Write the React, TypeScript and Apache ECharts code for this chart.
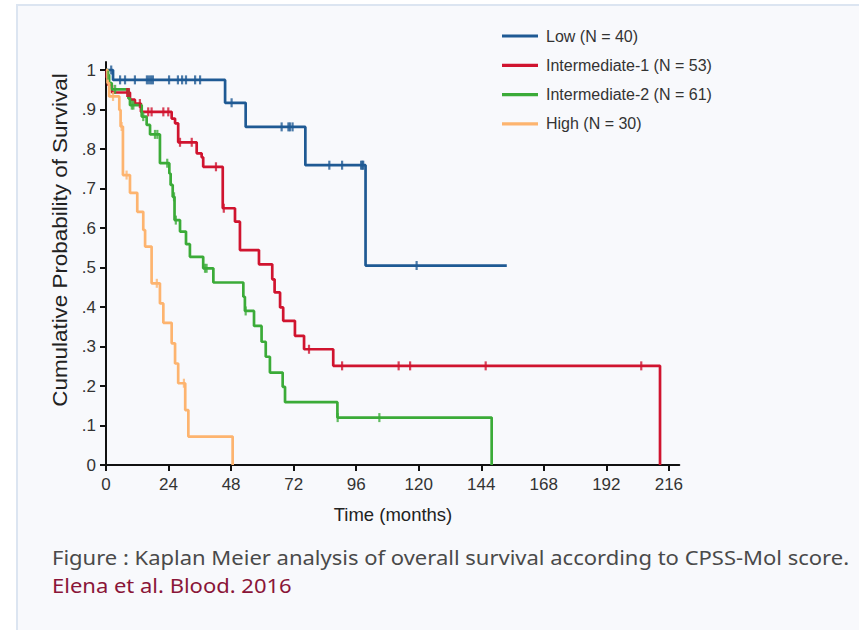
import React, { useEffect, useRef } from 'react';
import * as echarts from 'echarts';

const seriesNames = ['Low (N = 40)', 'Intermediate-1 (N = 53)', 'Intermediate-2 (N = 61)', 'High (N = 30)'];
const seriesColors = ['#1f5a94', '#d0142f', '#3bab38', '#fdb46f'];

// Kaplan-Meier steps: [time (months), survival after the event]
const lowSteps = [[0, 1], [2.7, 0.975], [45.7, 0.917], [53.6, 0.856], [76.5, 0.759], [99.6, 0.505], [153.8, 0.505]];
const lowCensored = [2.0, 5.4, 7.3, 11.1, 15.7, 16.5, 17.3, 18.0, 24.2, 27.6, 29.2, 30.7, 34.2, 36.1, 48.2, 67.4, 70.0, 70.6, 71.6, 85.7, 90.6, 97.9, 98.4, 98.7, 119.2];

const int1Steps = [[0, 1], [0.3, 0.981], [0.8, 0.962], [2.3, 0.943], [9.2, 0.925], [11.1, 0.915], [13.4, 0.894], [25.2, 0.877], [26.5, 0.865], [27.7, 0.817], [34.8, 0.789], [36.7, 0.779], [37.3, 0.755], [44.8, 0.65], [49.5, 0.616], [51.4, 0.544], [58.7, 0.508], [63.8, 0.47], [64.7, 0.437], [66.8, 0.399], [68, 0.365], [72.5, 0.327], [76, 0.293], [87.2, 0.251], [212.6, 0]];
const int1Censored = [8.1, 8.8, 13.0, 16.2, 17.5, 22.0, 23.9, 28.4, 32.9, 42.2, 45.2, 77.9, 90.6, 112.3, 116.7, 145.7, 205.4];

const int2Steps = [[0, 1], [0.65, 0.987], [1.2, 0.967], [2.2, 0.951], [8.6, 0.928], [9.2, 0.911], [13.7, 0.882], [15.6, 0.861], [16.9, 0.837], [20.7, 0.764], [24.3, 0.738], [24.8, 0.709], [25.6, 0.679], [26.3, 0.62], [28.4, 0.591], [30.7, 0.559], [32.2, 0.527], [37.3, 0.498], [41.2, 0.462], [52.7, 0.426], [53.3, 0.39], [56.8, 0.352], [59.7, 0.312], [61.3, 0.274], [62.9, 0.234], [67.8, 0.198], [68.7, 0.159], [88.8, 0.12], [148, 0]];
const int2Censored = [0.9, 3.5, 9.9, 10.5, 14.3, 18.8, 19.7, 23.5, 26.1, 26.8, 38.0, 38.6, 53.6, 88.9, 104.9];

const highSteps = [[0, 1], [0.6, 0.967], [1.2, 0.933], [5.1, 0.899], [5.6, 0.857], [6.5, 0.734], [9.2, 0.689], [12, 0.641], [14.3, 0.595], [15, 0.553], [17.5, 0.46], [20.7, 0.409], [22, 0.36], [25.2, 0.308], [26.5, 0.257], [27.7, 0.207], [30.4, 0.139], [31.6, 0.072], [48.6, 0]];
const highCensored = [2.7, 6.0, 7.9, 19.5, 29.9];

const xTickValues = [0, 24, 48, 72, 96, 120, 144, 168, 192, 216];
const yTickValues = [0, 0.1, 0.2, 0.3, 0.4, 0.5, 0.6, 0.7, 0.8, 0.9, 1];
const yTickLabels = ['0', '.1', '.2', '.3', '.4', '.5', '.6', '.7', '.8', '.9', '1'];

const xTitle = 'Time (months)';
const yTitle = 'Cumulative Probability of Survival';
const captionLine1 = 'Figure : Kaplan Meier analysis of overall survival according to CPSS-Mol score.';
const captionLine2 = 'Elena et al. Blood. 2016';

const allSteps = [lowSteps, int1Steps, int2Steps, highSteps];
const allCensored = [lowCensored, int1Censored, int2Censored, highCensored];

function survivalAt(steps: number[][], t: number): number {
  let s = steps[0][1];
  for (const [time, val] of steps) {
    if (time <= t) s = val;
  }
  return s;
}

const FONT = '"Liberation Sans", Arial, sans-serif';

export default function App() {
  const ref = useRef<HTMLDivElement>(null);

  useEffect(() => {
    if (!ref.current) return;
    const chart = echarts.init(ref.current, undefined, { renderer: 'svg' });
    const series: any[] = [];
    seriesNames.forEach((name, i) => {
      series.push({
        name,
        type: 'line',
        step: 'end',
        data: allSteps[i],
        showSymbol: false,
        color: seriesColors[i],
        lineStyle: { color: seriesColors[i], width: 2.7 },
        z: 3,
      });
    });
    seriesNames.forEach((name, i) => {
      series.push({
        name,
        type: 'scatter',
        data: allCensored[i].map((t) => [t, survivalAt(allSteps[i], t)]),
        symbol: 'rect',
        symbolSize: [2.2, 9],
        itemStyle: { color: seriesColors[i] },
        z: 4,
      });
    });

    const option: any = {
      animation: false,
      backgroundColor: 'transparent',
      textStyle: { fontFamily: FONT },
      grid: { left: 106, top: 62, width: 573.3, height: 403 },
      xAxis: {
        type: 'value',
        min: 0,
        max: 220,
        axisLine: { show: true, onZero: false, lineStyle: { color: '#111', width: 2 } },
        axisTick: { show: true, customValues: xTickValues, length: 6, lineStyle: { color: '#111', width: 2 } },
        axisLabel: { customValues: xTickValues, fontSize: 17, color: '#333', margin: 11, fontFamily: FONT },
        splitLine: { show: false },
      },
      yAxis: {
        type: 'value',
        min: 0,
        max: 403 / 395,
        axisLine: { show: true, lineStyle: { color: '#111', width: 2 } },
        axisTick: { show: true, customValues: yTickValues, length: 6, lineStyle: { color: '#111', width: 2 } },
        axisLabel: {
          customValues: yTickValues,
          fontSize: 17,
          color: '#333',
          margin: 10,
          fontFamily: FONT,
          formatter: (v: number) => {
            const idx = yTickValues.findIndex((t) => Math.abs(t - v) < 1e-6);
            return idx >= 0 ? yTickLabels[idx] : '';
          },
        },
        splitLine: { show: false },
      },
      legend: {
        orient: 'vertical',
        left: 502,
        top: 27,
        padding: 0,
        itemWidth: 36,
        itemHeight: 3.2,
        itemGap: 11.3,
        icon: 'rect',
        data: seriesNames,
        textStyle: { fontSize: 16, color: '#333', lineHeight: 18, fontFamily: FONT, padding: [0, 0, 0, 3] },
      },
      graphic: [
        {
          type: 'text',
          x: 60,
          y: 240,
          rotation: Math.PI / 2,
          scaleX: 1.12,
          style: {
            text: yTitle,
            fontSize: 20,
            fontFamily: FONT,
            fill: '#222',
            align: 'center',
            verticalAlign: 'middle',
          },
        },
        {
          type: 'text',
          x: 393,
          y: 514,
          style: {
            text: xTitle,
            fontSize: 18.5,
            fontFamily: FONT,
            fill: '#222',
            align: 'center',
            verticalAlign: 'middle',
          },
        },
        {
          type: 'text',
          x: 52,
          y: 557,
          scaleX: 1.1,
          style: {
            text: captionLine1,
            fontSize: 20,
            lineHeight: 24,
            fontFamily: '"Noto Sans", sans-serif',
            fill: '#4a4a4a',
            align: 'left',
            verticalAlign: 'middle',
          },
        },
        {
          type: 'text',
          x: 52,
          y: 585,
          scaleX: 1.1,
          style: {
            text: captionLine2,
            fontSize: 20,
            lineHeight: 24,
            fontFamily: '"Noto Sans", sans-serif',
            fill: '#8a1538',
            align: 'left',
            verticalAlign: 'middle',
          },
        },
      ],
      series,
    };
    chart.setOption(option);
    return () => chart.dispose();
  }, []);

  return (
    <div style={{ position: 'fixed', left: 0, top: 0, width: 859, height: 630, background: '#ffffff', overflow: 'hidden' }}>
      <div
        style={{
          position: 'absolute',
          left: 16,
          top: 4,
          right: 0,
          bottom: 0,
          background: '#f8f9fc',
          borderTop: '2px solid #dce5f1',
          borderLeft: '2px solid #dce5f1',
        }}
      />
      <div ref={ref} style={{ position: 'absolute', left: 0, top: 0, width: 859, height: 630 }} />
    </div>
  );
}
